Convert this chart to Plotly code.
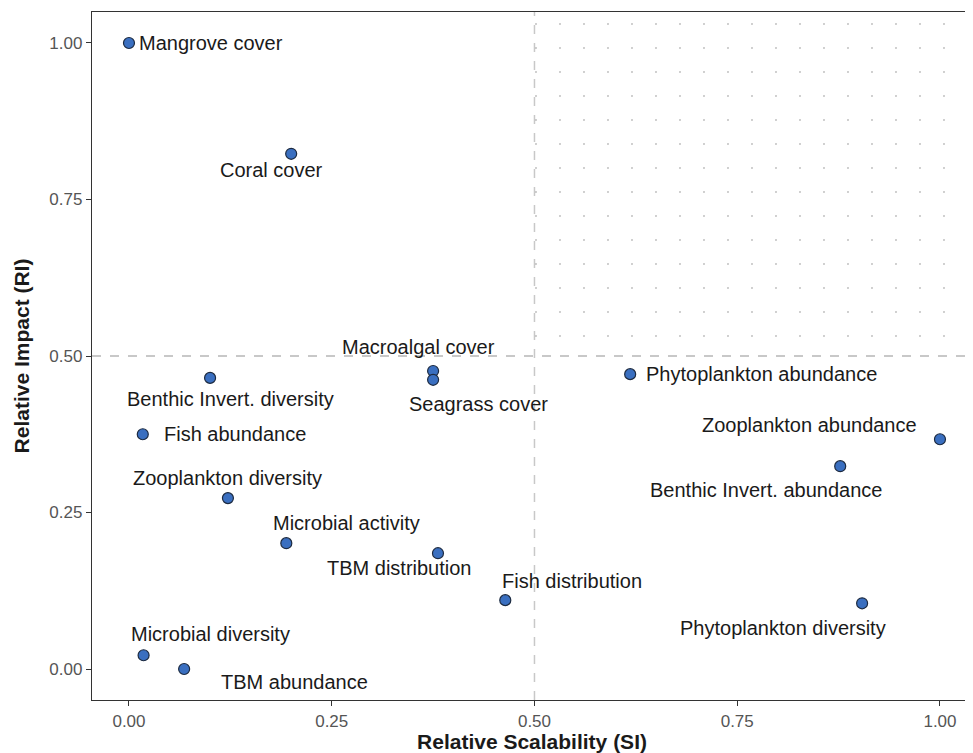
import plotly.graph_objects as go

names = ["Mangrove cover", "Coral cover", "Macroalgal cover", "Seagrass cover",
         "Phytoplankton abundance", "Benthic Invert. diversity", "Fish abundance",
         "Zooplankton abundance", "Benthic Invert. abundance", "Zooplankton diversity",
         "Microbial activity", "TBM distribution", "Fish distribution",
         "Phytoplankton diversity", "Microbial diversity", "TBM abundance"]
si = [0.0, 0.200, 0.375, 0.375, 0.618, 0.100, 0.017, 1.000, 0.877, 0.122,
      0.194, 0.381, 0.464, 0.904, 0.018, 0.068]
ri = [1.000, 0.823, 0.476, 0.462, 0.471, 0.465, 0.375, 0.367, 0.324, 0.273,
      0.201, 0.185, 0.110, 0.105, 0.022, 0.000]
# label offsets in pixels (x, y) and anchor
label_dx = [8, -20, -15, 45, 14, 20, 19, -130, -74, 0, 60, -38, 67, -79, 67, 110]
label_dy = [0, -16, 24, -24, 0, -21, 0, 14, -24, 20, 20, -15, 19, -25, 21, -13]
label_anchor = ["left", "center", "center", "center", "left", "center", "left",
                "center", "center", "center", "center", "center", "center",
                "center", "center", "center"]

x_ticks = [0.0, 0.25, 0.5, 0.75, 1.0]
y_ticks = [0.0, 0.25, 0.5, 0.75, 1.0]
tick_text = ["0.00", "0.25", "0.50", "0.75", "1.00"]

XR = [-0.0456, 1.0395]
YR = [-0.0495, 1.0495]
threshold = 0.5

fig = go.Figure()

# dotted quadrant (high impact & high scalability)
fig.add_trace(go.Scatter(
    x=[threshold, XR[1], XR[1], threshold, threshold],
    y=[threshold, threshold, YR[1], YR[1], threshold],
    fill="toself", mode="none", hoverinfo="skip", showlegend=False,
    fillcolor="rgba(255,255,255,0)",
    fillpattern=dict(shape=".", fgcolor="#8a8a8a", bgcolor="rgba(255,255,255,0)",
                     size=24, solidity=0.006),
))

fig.add_trace(go.Scatter(
    x=si, y=ri, mode="markers", showlegend=False,
    marker=dict(size=11, color="#3a6fc0", line=dict(color="#1c2a40", width=1.2)),
))

for n, x, y, dx, dy, a in zip(names, si, ri, label_dx, label_dy, label_anchor):
    fig.add_annotation(x=x, y=y, text=n, showarrow=False, xanchor=a, yanchor="middle",
                       xshift=dx, yshift=dy,
                       font=dict(family="Liberation Sans, Arial", size=20, color="#1a1a1a"))

fig.add_shape(type="line", x0=threshold, x1=threshold, y0=YR[0], y1=YR[1],
              line=dict(color="#c8c8c8", width=1.5, dash="dash"), layer="below")
fig.add_shape(type="line", x0=XR[0], x1=XR[1], y0=threshold, y1=threshold,
              line=dict(color="#c8c8c8", width=2, dash="dash"), layer="below")

axis_common = dict(showgrid=False, zeroline=False, showline=True, mirror=True,
                   linecolor="#333333", linewidth=1.3, ticks="outside", ticklen=5,
                   tickcolor="#333333", automargin=False,
                   tickfont=dict(family="Liberation Sans, Arial", size=17, color="#555555"))

# page body has an 8px margin, so the figure is sized to fit the window
fig.update_layout(
    width=965, height=745,
    margin=dict(l=84, r=1, t=4, b=53),
    plot_bgcolor="white", paper_bgcolor="white",
    xaxis=dict(range=XR, tickvals=x_ticks, ticktext=tick_text,
               title=dict(text="<b>Relative Scalability (SI)</b>", standoff=0,
                          font=dict(family="Liberation Sans, Arial", size=21, color="#1a1a1a")),
               **axis_common),
    yaxis=dict(range=YR, tickvals=y_ticks, ticktext=tick_text,
               title=dict(text="<b>Relative Impact (RI)</b>", standoff=14,
                          font=dict(family="Liberation Sans, Arial", size=21, color="#1a1a1a")),
               **axis_common),
)

fig.write_html("out.html")
